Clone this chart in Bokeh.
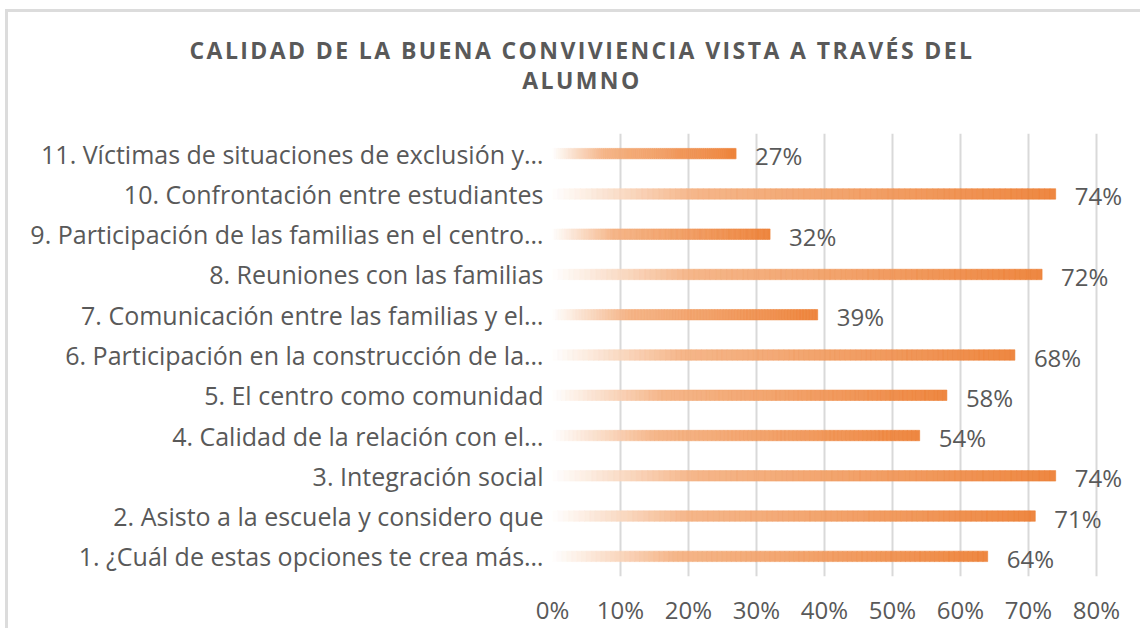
import numpy as np
from bokeh.plotting import figure
from bokeh.layouts import column
from bokeh.models import (ColumnDataSource, FactorRange, Range1d, LabelSet, Div,
                          NumeralTickFormatter, FixedTicker)
from bokeh.core.properties import value
from bokeh.embed import file_html
from bokeh.resources import INLINE

# ---------------- data ----------------
categories = [
    "1. ¿Cuál de estas opciones te crea más…",
    "2. Asisto a la escuela y considero que",
    "3. Integración social",
    "4. Calidad de la relación con el…",
    "5. El centro como comunidad",
    "6. Participación en la construcción de la…",
    "7. Comunicación entre las familias y el…",
    "8. Reuniones con las familias",
    "9. Participación de las familias en el centro…",
    "10. Confrontación entre estudiantes",
    "11. Víctimas de situaciones de exclusión y…",
]
values = [0.64, 0.71, 0.74, 0.54, 0.58, 0.68, 0.39, 0.72, 0.32, 0.74, 0.27]
x_ticks = [0.0, 0.1, 0.2, 0.3, 0.4, 0.5, 0.6, 0.7, 0.8]
title_lines = ["CALIDAD DE LA BUENA CONVIVIENCIA VISTA A TRAVÉS DEL", "ALUMNO"]

FONT = "Open Sans"
TXT = "#595959"
GRID = "#d9d9d9"

# gradient stops (fraction of bar length -> rgb)
stops_t = [0.0, 0.28, 1.0]
stops_c = [(255, 255, 255), (244, 176, 128), (237, 125, 49)]


def grad(t):
    r = np.interp(t, stops_t, [c[0] for c in stops_c])
    g = np.interp(t, stops_t, [c[1] for c in stops_c])
    b = np.interp(t, stops_t, [c[2] for c in stops_c])
    return "#%02x%02x%02x" % (int(round(r)), int(round(g)), int(round(b)))


n = 90
seg_y, seg_l, seg_r, seg_c = [], [], [], []
for cat, v in zip(categories, values):
    for i in range(n):
        seg_y.append(cat)
        seg_l.append(v * i / n)
        seg_r.append(v * (i + 1) / n)
        seg_c.append(grad((i + 0.5) / n))

seg_src = ColumnDataSource(dict(y=seg_y, left=seg_l, right=seg_r, color=seg_c))
lab_src = ColumnDataSource(dict(y=categories, x=values,
                                text=["%d%%" % round(v * 100) for v in values]))

# ---------------- title (HTML, allows letter spacing) ----------------
title_html = (
    '<div style="margin-left:16px;width:1116px;text-align:center;padding-top:23px;'
    'font-family:\'Open Sans\';font-weight:bold;font-size:23px;line-height:30px;'
    'letter-spacing:2.4px;color:%s;">%s<br>%s</div>' % (TXT, title_lines[0], title_lines[1])
)
title_div = Div(text=title_html, width=1132, height=113, margin=0)

# ---------------- figure ----------------
x_end = 0.8 + 44 / 680.0
p = figure(width=1132, height=503,
           y_range=FactorRange(*categories), x_range=Range1d(0, x_end),
           output_backend="svg", toolbar_location=None,
           min_border_left=544, min_border_right=0,
           min_border_bottom=52, min_border_top=8, margin=0)

p.hbar(y="y", left="left", right="right", height=0.26, fill_color="color",
       line_color="color", line_width=0.6, fill_alpha=0.92, line_alpha=0.92,
       source=seg_src)

p.add_layout(LabelSet(x="x", y="y", text="text", source=lab_src, x_offset=19, y_offset=-2,
                      text_baseline="middle", text_font=value(FONT),
                      text_font_size="24px", text_color=TXT))

p.xaxis.ticker = FixedTicker(ticks=x_ticks)
p.xaxis.formatter = NumeralTickFormatter(format="0%")
p.xaxis.axis_line_color = None
p.xaxis.major_tick_line_color = None
p.xaxis.minor_tick_line_color = None
p.xaxis.major_label_standoff = 10
p.xaxis.major_label_text_font = FONT
p.xaxis.major_label_text_font_size = "24px"
p.xaxis.major_label_text_color = TXT

p.yaxis.axis_line_color = None
p.yaxis.major_tick_line_color = None
p.yaxis.minor_tick_line_color = None
p.yaxis.major_label_standoff = 3
p.yaxis.major_label_text_font = FONT
p.yaxis.major_label_text_font_size = "25px"
p.yaxis.major_label_text_color = TXT

p.xgrid.grid_line_color = GRID
p.xgrid.grid_line_width = 2
p.ygrid.grid_line_color = None
p.outline_line_color = None

layout = column(title_div, p, spacing=0,
                styles={"border-left": "3px solid #dcdcdc", "border-top": "3px solid #dcdcdc",
                        "margin-left": "5px", "margin-top": "9px"})

open("out.html", "w").write(file_html(layout, INLINE))
